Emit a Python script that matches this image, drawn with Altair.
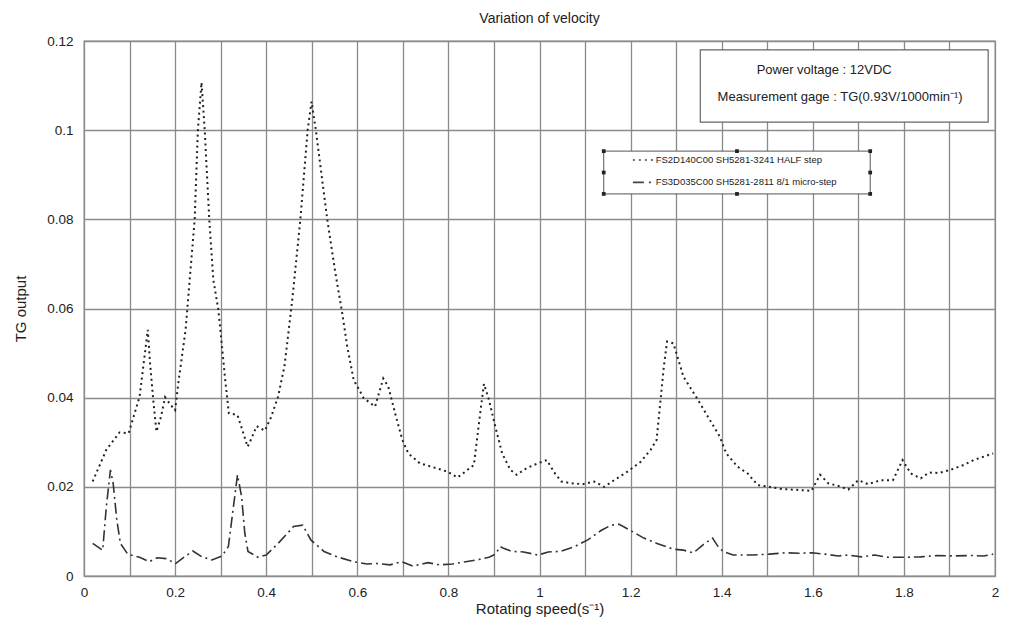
import altair as alt
import pandas as pd

# ---- data ----
half_x = [0.019, 0.049, 0.078, 0.098, 0.122, 0.140, 0.145, 0.152, 0.159, 0.169,
          0.178, 0.19, 0.2, 0.208, 0.223, 0.232, 0.243, 0.25, 0.258, 0.265,
          0.275, 0.284, 0.295, 0.303, 0.31, 0.318, 0.337, 0.35, 0.359, 0.364,
          0.379, 0.397, 0.411, 0.426, 0.44, 0.4495, 0.458, 0.475, 0.491, 0.4995,
          0.509, 0.534, 0.552, 0.567, 0.578, 0.592, 0.614, 0.639, 0.657, 0.668,
          0.683, 0.699, 0.712, 0.737, 0.773, 0.798, 0.820, 0.837, 0.856, 0.867,
          0.878, 0.889, 0.903, 0.918, 0.936, 0.950, 0.972, 0.997, 1.016, 1.034,
          1.048, 1.07, 1.095, 1.12, 1.142, 1.164, 1.193, 1.222, 1.244, 1.257,
          1.265, 1.273, 1.280, 1.294, 1.316, 1.348, 1.374, 1.396, 1.41, 1.435,
          1.457, 1.479, 1.504, 1.533, 1.569, 1.597, 1.616, 1.634, 1.656, 1.678,
          1.700, 1.721, 1.750, 1.776, 1.797, 1.815, 1.837, 1.855, 1.877, 1.902,
          1.931, 1.953, 1.996]
half_y = [0.0212, 0.0283, 0.0322, 0.032, 0.0402, 0.0552, 0.0478, 0.0395, 0.0324, 0.0357,
          0.0401, 0.0384, 0.0372, 0.044, 0.0552, 0.0664, 0.08, 0.1, 0.1107, 0.1,
          0.08, 0.0664, 0.0597, 0.0514, 0.044, 0.0365, 0.0361, 0.032, 0.029, 0.030,
          0.0336, 0.0326, 0.0357, 0.0402, 0.047, 0.0552, 0.0627, 0.08, 0.1, 0.1064,
          0.1, 0.08, 0.0679, 0.0589, 0.0514, 0.044, 0.0399, 0.038, 0.0443, 0.0425,
          0.0365, 0.0305, 0.0275, 0.0253, 0.0242, 0.0234, 0.0221, 0.0234, 0.0249, 0.0342,
          0.0431, 0.0395, 0.0335, 0.0275, 0.0238, 0.0227, 0.0242, 0.0253, 0.026, 0.023,
          0.0212, 0.0208, 0.0206, 0.0212, 0.02, 0.0215, 0.0234, 0.0256, 0.0283, 0.0305,
          0.0387, 0.047, 0.0526, 0.0522, 0.0447, 0.0395, 0.035, 0.0312, 0.0275, 0.0245,
          0.023, 0.0204, 0.02, 0.0195, 0.0193, 0.0191, 0.0227, 0.0208, 0.0202, 0.0194,
          0.0215, 0.0206, 0.0215, 0.0215, 0.026, 0.023, 0.0219, 0.0232, 0.0231, 0.0238,
          0.0249, 0.026, 0.0275]

micro_x = [0.019, 0.041, 0.049, 0.058, 0.064, 0.072, 0.080, 0.096, 0.122, 0.143,
           0.161, 0.18, 0.201, 0.219, 0.239, 0.259, 0.281, 0.303, 0.317, 0.328,
           0.337, 0.346, 0.353, 0.36, 0.382, 0.400, 0.426, 0.447, 0.46, 0.48,
           0.498, 0.527, 0.556, 0.592, 0.621, 0.643, 0.672, 0.697, 0.722, 0.755,
           0.78, 0.809, 0.838, 0.867, 0.889, 0.903, 0.914, 0.921, 0.94, 0.965,
           0.997, 1.019, 1.045, 1.077, 1.106, 1.135, 1.157, 1.175, 1.20, 1.229,
           1.258, 1.294, 1.316, 1.338, 1.359, 1.380, 1.392, 1.403, 1.425, 1.468,
           1.504, 1.54, 1.569, 1.598, 1.627, 1.656, 1.678, 1.707, 1.736, 1.765,
           1.801, 1.837, 1.873, 1.909, 1.946, 1.975, 1.996]
micro_y = [0.0073, 0.0058, 0.0155, 0.0238, 0.0208, 0.0126, 0.0073, 0.0049, 0.0042, 0.0032,
           0.0041, 0.0039, 0.0028, 0.0042, 0.0056, 0.0043, 0.0036, 0.0045, 0.0066, 0.0155,
           0.0227, 0.0178, 0.0096, 0.0055, 0.0042, 0.0047, 0.0073, 0.0096, 0.0111, 0.0114,
           0.0081, 0.0055, 0.0043, 0.0032, 0.0027, 0.0028, 0.0025, 0.0032, 0.0022, 0.003,
           0.0025, 0.0027, 0.0032, 0.0037, 0.0042, 0.0049, 0.0066, 0.0062, 0.0055, 0.0054,
           0.0047, 0.0054, 0.0055, 0.0066, 0.0081, 0.0102, 0.0114, 0.0116, 0.0102, 0.0085,
           0.0073, 0.006, 0.0058, 0.0052, 0.007, 0.0085, 0.0066, 0.0055, 0.0047, 0.0047,
           0.0049, 0.0052, 0.0051, 0.0052, 0.0049, 0.0045, 0.0047, 0.0043, 0.0047, 0.0042,
           0.0042, 0.0043, 0.0046, 0.0045, 0.0046, 0.0045, 0.0049]

series_names = ["FS2D140C00 SH5281-3241 HALF step",
                "FS3D035C00 SH5281-2811 8/1 micro-step"]
info_lines = ["Power voltage : 12VDC", "Measurement gage : TG(0.93V/1000min⁻¹)"]

x_ticks = [round(i * 0.05, 2) for i in range(41)]
y_ticks = [0, 0.02, 0.04, 0.06, 0.08, 0.1, 0.12]

# ---- annotation placement (data coordinates) ----
INFO_BOX = dict(x=1.353, x2=1.985, y=0.1180, y2=0.1018)
INFO_TEXT = [(1.625, 0.1136), (1.66, 0.1075)]
LEG_BOX = dict(x=1.141, x2=1.726, y=0.0953, y2=0.0857)
LEG_ROWS = [0.0933, 0.0883]
LEG_SAMPLE = (1.205, 1.252)
LEG_TEXT_X = 1.255

FONT = "Liberation Sans"

half_df = pd.DataFrame({"x": half_x, "y": half_y})
micro_df = pd.DataFrame({"x": micro_x, "y": micro_y})

xscale = alt.Scale(domain=[0, 2], nice=False, zero=False)
yscale = alt.Scale(domain=[0, 0.12], nice=False)

xaxis = alt.Axis(values=x_ticks, format="~g", ticks=False, domain=False,
                 labelExpr="abs(datum.value*5 - round(datum.value*5)) < 0.001 ? datum.label : ''",
                 title="Rotating speed(s⁻¹)", labelFontSize=13.5, titleFontSize=15,
                 labelColor="#222", titleColor="#222", titleFontWeight="normal",
                 labelFont=FONT, titleFont=FONT, labelPadding=9, titlePadding=3,
                 gridColor="#8a8a8a", gridWidth=1.3, gridOpacity=1, labelFlush=False)
yaxis = alt.Axis(values=y_ticks, format="~g", ticks=False, domain=False,
                 title="TG output", labelFontSize=13.5, titleFontSize=15,
                 labelColor="#222", titleColor="#222", titleFontWeight="normal",
                 labelFont=FONT, titleFont=FONT, labelPadding=11, titlePadding=18,
                 gridColor="#8a8a8a", gridWidth=1.3, gridOpacity=1)

half_line = alt.Chart(half_df).mark_line(
    color="#222", strokeWidth=2, strokeDash=[2, 3.5], strokeCap="butt"
).encode(x=alt.X("x:Q", scale=xscale, axis=xaxis),
         y=alt.Y("y:Q", scale=yscale, axis=yaxis))

micro_line = alt.Chart(micro_df).mark_line(
    color="#333", strokeWidth=1.6, strokeDash=[11, 4, 2, 4], strokeCap="butt"
).encode(x=alt.X("x:Q", scale=xscale), y=alt.Y("y:Q", scale=yscale))

# info box
info_box_df = pd.DataFrame([INFO_BOX])
info_box = alt.Chart(info_box_df).mark_rect(
    fill="white", stroke="#666", strokeWidth=1.2
).encode(x="x:Q", x2="x2:Q", y="y:Q", y2="y2:Q")
info_df = pd.DataFrame({"t": info_lines,
                        "x": [p[0] for p in INFO_TEXT],
                        "y": [p[1] for p in INFO_TEXT]})
info_text = alt.Chart(info_df).mark_text(
    font=FONT, fontSize=13, color="#222", align="center", baseline="middle"
).encode(x="x:Q", y="y:Q", text="t:N")

# legend box
leg_box_df = pd.DataFrame([LEG_BOX])
leg_box = alt.Chart(leg_box_df).mark_rect(
    fill="white", stroke="#555", strokeWidth=1
).encode(x="x:Q", x2="x2:Q", y="y:Q", y2="y2:Q")
hx = [LEG_BOX["x"], (LEG_BOX["x"] + LEG_BOX["x2"]) / 2, LEG_BOX["x2"]]
hy = [LEG_BOX["y"], (LEG_BOX["y"] + LEG_BOX["y2"]) / 2, LEG_BOX["y2"]]
handles_df = pd.DataFrame([{"x": a, "y": b} for a in hx for b in hy
                           if not (a == hx[1] and b == hy[1])])
handles = alt.Chart(handles_df).mark_square(
    size=14, color="#222", opacity=1
).encode(x="x:Q", y="y:Q")

samp_half = alt.Chart(pd.DataFrame({"x": [LEG_SAMPLE[0]], "x2": [LEG_SAMPLE[1]],
                                    "y": [LEG_ROWS[0]]})).mark_rule(
    color="#444", strokeWidth=1.6, strokeDash=[2, 4]
).encode(x="x:Q", x2="x2:Q", y="y:Q")
samp_micro = alt.Chart(pd.DataFrame({"x": [LEG_SAMPLE[0]], "x2": [LEG_SAMPLE[1]],
                                     "y": [LEG_ROWS[1]]})).mark_rule(
    color="#444", strokeWidth=1.6, strokeDash=[11, 5, 2, 4, 2, 4]
).encode(x="x:Q", x2="x2:Q", y="y:Q")
leg_text = alt.Chart(pd.DataFrame({"t": series_names, "x": [LEG_TEXT_X] * 2,
                                   "y": LEG_ROWS})).mark_text(
    font=FONT, fontSize=9.5, color="#222", align="left", baseline="middle"
).encode(x="x:Q", y="y:Q", text="t:N")

chart = alt.layer(
    half_line, micro_line, info_box, info_text, leg_box, handles,
    samp_half, samp_micro, leg_text
).properties(
    width=911, height=535,
    title=alt.TitleParams("Variation of velocity", font=FONT, fontSize=14,
                          fontWeight="normal", color="#222", offset=8),
    padding={"left": 5, "top": 4, "right": 0, "bottom": 4}
).configure_view(stroke="#8a8a8a", strokeWidth=1.3)

chart.save("out.html", embed_options={"renderer": "svg", "actions": False})
